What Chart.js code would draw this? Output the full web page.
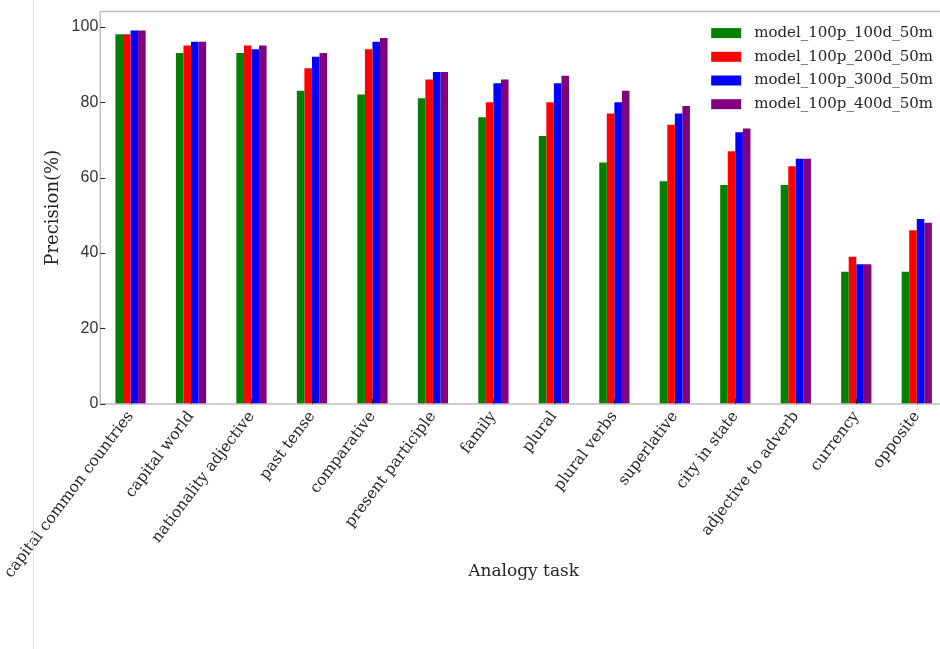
<!DOCTYPE html>
<html>
<head>
<meta charset="utf-8">
<script src="https://cdn.jsdelivr.net/npm/chart.js@4.4.1/dist/chart.umd.min.js"></script>
<style>
  html, body { margin: 0; padding: 0; background: #fff; overflow: hidden; width: 940px; height: 649px; }
  #wrap { position: relative; width: 960px; height: 649px; }
  #edge { position: absolute; left: 33px; top: 0; width: 1px; height: 649px; background: #dcdcdc; }
</style>
</head>
<body>
<div id="wrap">
  <canvas id="chart" width="960" height="649"></canvas>
  <div id="edge"></div>
</div>
<script>
// Analogy tasks (x categories)
const tasks = [
  'capital common countries', 'capital world', 'nationality adjective', 'past tense',
  'comparative', 'present participle', 'family', 'plural', 'plural verbs',
  'superlative', 'city in state', 'adjective to adverb', 'currency', 'opposite'
];

// Precision (%) per model
const model100d = [98, 93, 93, 83, 82, 81, 76, 71, 64, 59, 58, 58, 35, 35];
const model200d = [98, 95, 95, 89, 94, 86, 80, 80, 77, 74, 67, 63, 39, 46];
const model300d = [99, 96, 94, 92, 96, 88, 85, 85, 80, 77, 72, 65, 37, 49];
const model400d = [99, 96, 95, 93, 97, 88, 86, 87, 83, 79, 73, 65, 37, 48];

const seriesNames = ['model_100p_100d_50m', 'model_100p_200d_50m', 'model_100p_300d_50m', 'model_100p_400d_50m'];
const seriesColors = ['#008000', '#ff0000', '#0000ff', '#800080'];
const yTicks = [0, 20, 40, 60, 80, 100];

const serif = "'DejaVu Serif', serif";
const sans = "'Liberation Sans', Arial, sans-serif";

// Frame, inward tick marks and the in-plot legend
const framePlugin = {
  id: 'frame',
  afterDraw(chart) {
    const { ctx, chartArea: a, scales } = chart;
    ctx.save();
    // spines
    ctx.strokeStyle = '#bfbfbf';
    ctx.lineWidth = 1.5;
    ctx.beginPath();
    ctx.moveTo(a.right, a.top);
    ctx.lineTo(a.left, a.top);
    ctx.lineTo(a.left, a.bottom);
    ctx.lineTo(a.right, a.bottom);
    ctx.stroke();
    // inward ticks
    ctx.strokeStyle = '#222';
    ctx.lineWidth = 1;
    scales.y.ticks.forEach((t, i) => {
      const y = Math.round(scales.y.getPixelForTick(i)) + 0.5;
      ctx.beginPath();
      ctx.moveTo(a.left, y);
      ctx.lineTo(a.left + 5, y);
      ctx.stroke();
    });
    scales.x.ticks.forEach((t, i) => {
      const x = Math.round(scales.x.getPixelForTick(i)) + 0.5;
      ctx.beginPath();
      ctx.moveTo(x, a.bottom);
      ctx.lineTo(x, a.bottom - 5);
      ctx.stroke();
    });
    // legend
    ctx.font = '15px ' + serif;
    ctx.textBaseline = 'middle';
    ctx.textAlign = 'left';
    const sets = chart.data.datasets;
    const maxW = Math.max(...sets.map(d => ctx.measureText(d.label).width));
    const textX = a.right - 14 - maxW;
    const boxX = textX - 13 - 30;
    sets.forEach((d, i) => {
      const cy = a.top + 21.5 + i * 23.7;
      ctx.fillStyle = d.backgroundColor;
      ctx.fillRect(boxX, cy - 5, 30, 10);
      ctx.fillStyle = '#262626';
      ctx.fillText(d.label, textX, cy);
    });
    ctx.restore();
  }
};

const datasets = [model100d, model200d, model300d, model400d].map((vals, i) => ({
  label: seriesNames[i],
  data: vals,
  backgroundColor: seriesColors[i],
  borderWidth: 0,
  categoryPercentage: 0.5,
  barPercentage: 1.0
}));

new Chart(document.getElementById('chart'), {
  type: 'bar',
  data: { labels: tasks, datasets },
  options: {
    responsive: false,
    animation: false,
    layout: { padding: { left: 43, right: 13, top: 8, bottom: 67 } },
    plugins: { legend: { display: false }, tooltip: { enabled: false } },
    scales: {
      x: {
        grid: { display: false, drawTicks: false },
        border: { display: false },
        ticks: {
          color: '#262626',
          font: { family: serif, size: 15.5 },
          minRotation: 53,
          maxRotation: 53,
          autoSkip: false,
          padding: 4
        },
        title: {
          display: true,
          text: 'Analogy task',
          color: '#262626',
          font: { family: serif, size: 17 },
          padding: { top: -24, bottom: 0 }
        }
      },
      y: {
        min: 0,
        max: 104,
        grid: { display: false, drawTicks: false },
        border: { display: false },
        afterBuildTicks(scale) {
          scale.ticks = yTicks.map(v => ({ value: v }));
        },
        ticks: {
          color: '#333',
          font: { family: sans, size: 16 },
          padding: 2
        },
        title: {
          display: true,
          text: 'Precision(%)',
          color: '#262626',
          font: { family: serif, size: 18 },
          padding: { top: 0, bottom: 5 }
        }
      }
    }
  },
  plugins: [framePlugin]
});
</script>
</body>
</html>
